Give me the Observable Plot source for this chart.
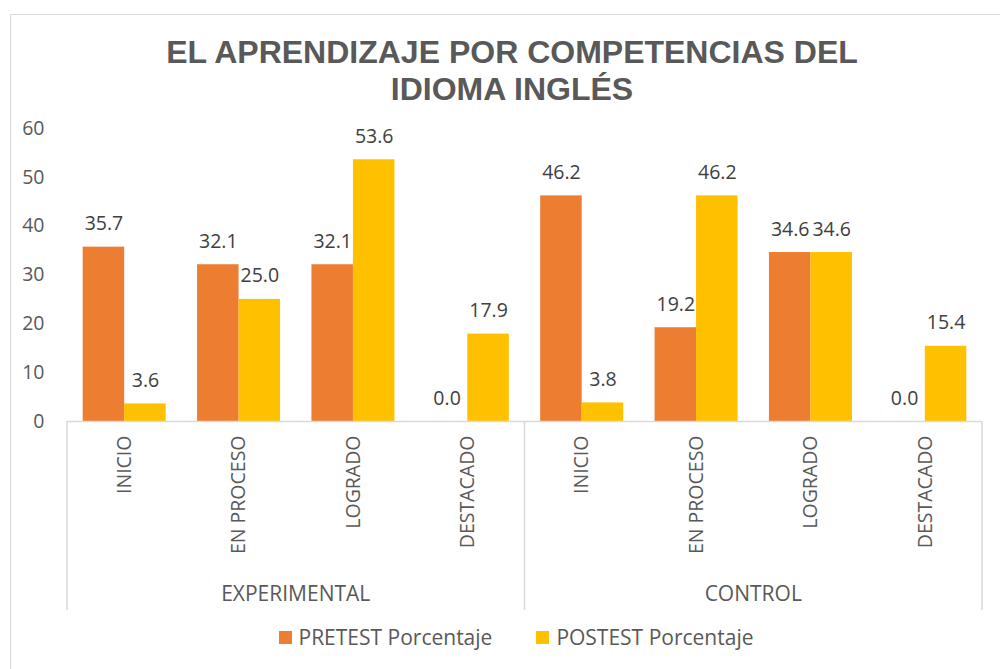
<!DOCTYPE html>
<html>
<head>
<meta charset="utf-8">
<script src="https://cdn.jsdelivr.net/npm/d3@7"></script>
<script src="https://cdn.jsdelivr.net/npm/@observablehq/plot@0.6"></script>
<style>
  body { margin: 0; background: #fff; }
  #wrap { position: relative; width: 1000px; height: 669px; overflow: hidden; background: #fff; }
  #border { position: absolute; left: 10px; top: 14px; width: 1100px; height: 800px;
            border-left: 1.5px solid #d9d9d9; border-top: 1.5px solid #d9d9d9; }
  #title { position: absolute; left: 12px; top: 34px; width: 1000px; text-align: center;
           font-family: "Liberation Sans", Arial, sans-serif; font-weight: bold; font-size: 32px;
           line-height: 37px; color: #595959; }
  #legend { position: absolute; left: 16px; top: 623px; width: 1000px; display: flex; justify-content: center;
            align-items: center; font-family: "Open Sans", sans-serif; font-size: 21px; color: #595959; }
  .item { display: flex; align-items: center; margin: 0 22px; }
  .sw { width: 13px; height: 13px; margin-right: 7px; }
  #chart { position: absolute; left: 0; top: 0; }
</style>
</head>
<body>
<div id="wrap">
  <div id="border"></div>
  <div id="chart"></div>
  <div id="title">EL APRENDIZAJE POR COMPETENCIAS DEL<br>IDIOMA INGLÉS</div>
  <div id="legend"></div>
</div>
<script>
const groups = ["EXPERIMENTAL", "CONTROL"];
const categories = ["INICIO", "EN PROCESO", "LOGRADO", "DESTACADO"];
const series = ["PRETEST Porcentaje", "POSTEST Porcentaje"];
const pretest = [35.7, 32.1, 32.1, 0.0, 46.2, 19.2, 34.6, 0.0];
const postest = [3.6, 25.0, 53.6, 17.9, 3.8, 46.2, 34.6, 15.4];
const yTicks = [0, 10, 20, 30, 40, 50, 60];
const colors = ["#ED7D31", "#FFC000"];

const keys = [];
groups.forEach(g => categories.forEach(c => keys.push(g + "|" + c)));
const rows = [];
keys.forEach((k, i) => {
  rows.push({key: k, series: series[0], value: pretest[i]});
  rows.push({key: k, series: series[1], value: postest[i]});
});

const font = '"Open Sans", sans-serif';
const plot = Plot.plot({
  width: 1000,
  height: 669,
  marginLeft: 67,
  marginRight: 18,
  marginTop: 128,
  marginBottom: 248,
  style: {fontFamily: font, background: "transparent", overflow: "visible"},
  fx: {domain: keys, padding: 0, round: false},
  x: {domain: series, paddingInner: 0, paddingOuter: 0.378, round: false, axis: null},
  y: {domain: [0, 60]},
  color: {domain: series, range: colors},
  marks: [
    Plot.barY(rows, {fx: "key", x: "series", y: "value", fill: "series"}),
    Plot.ruleY([0], {stroke: "#d9d9d9", strokeWidth: 1.5}),
    Plot.text(rows, {fx: "key", x: "series", y: "value", text: d => d.value.toFixed(1),
      lineAnchor: "bottom", dy: -17, fontSize: 19.5, fill: "#404040"}),
    Plot.axisY({ticks: yTicks, tickSize: 0, tickPadding: 23, fontSize: 19.5, color: "#595959", label: null}),
    Plot.axisFx({anchor: "bottom", tickRotate: -90, tickSize: 0, tickPadding: 14, fontSize: 19.5,
      color: "#595959", label: null, tickFormat: k => k.split("|")[1]})
  ]
});
document.getElementById("chart").appendChild(plot);

// category separators and group labels, positioned with Plot's own scales
const fx = plot.scale("fx");
const y = plot.scale("y");
const bw = fx.bandwidth;
const svg = d3.select(plot);
const y0 = y.apply(0);
const bounds = [fx.apply(keys[0]), fx.apply(keys[4]), fx.apply(keys[7]) + bw];
bounds.forEach(xv => {
  svg.append("line").attr("x1", xv).attr("x2", xv).attr("y1", y0).attr("y2", y0 + 189)
    .attr("stroke", "#d9d9d9").attr("stroke-width", 1.5);
});
groups.forEach((g, gi) => {
  const x1 = fx.apply(keys[gi * 4]);
  const x2 = fx.apply(keys[gi * 4 + 3]) + bw;
  svg.append("text").attr("x", (x1 + x2) / 2).attr("y", y0 + 173)
    .attr("dy", "0.32em").attr("text-anchor", "middle")
    .attr("font-family", font).attr("font-size", 21).attr("fill", "#595959").text(g);
});

const legend = d3.select("#legend");
series.forEach((s, i) => {
  const it = legend.append("div").attr("class", "item");
  it.append("div").attr("class", "sw").style("background", colors[i]);
  it.append("span").text(s);
});
</script>
</body>
</html>
